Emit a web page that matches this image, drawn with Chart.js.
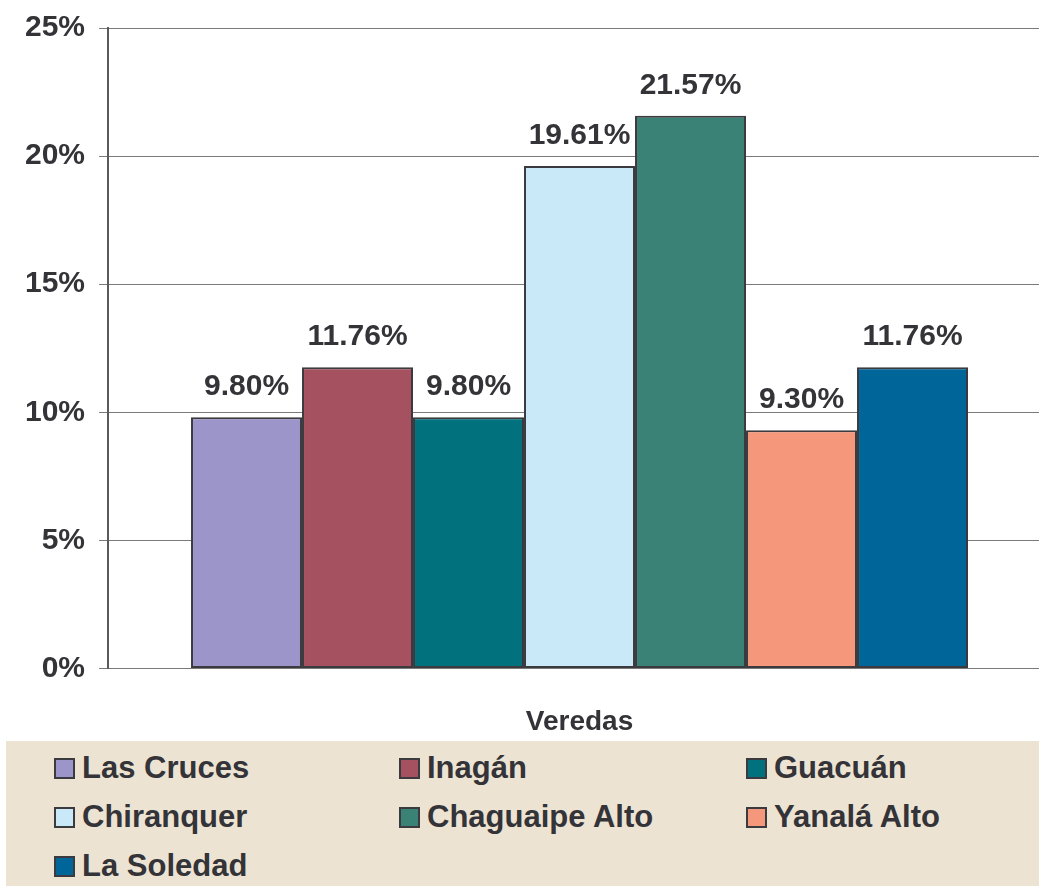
<!DOCTYPE html>
<html>
<head>
<meta charset="utf-8">
<script src="https://cdn.jsdelivr.net/npm/chart.js@4"></script>
<style>
  html, body { margin: 0; padding: 0; background: #fff; overflow: hidden; }
  #wrap { position: relative; width: 1039px; height: 886px; overflow: hidden; }
  #chart { position: absolute; left: 0; top: -4px; }
  #legend {
    position: absolute; left: 6px; top: 741px; width: 1033px; height: 145px;
    background: #ede3d3;
  }
  .item {
    position: absolute; display: flex; align-items: center; height: 34px;
    font: bold 31px "Liberation Sans", Arial, sans-serif; color: #333338;
    white-space: nowrap;
  }
  .box {
    width: 17px; height: 17px; border: 2px solid #3a3a3f; margin-right: 7px;
  }
</style>
</head>
<body>
<div id="wrap">
  <canvas id="chart"></canvas>
  <div id="legend"></div>
</div>
<script>
// data
const categories = ['Veredas'];
const seriesNames = ['Las Cruces', 'Inagán', 'Guacuán', 'Chiranquer', 'Chaguaipe Alto', 'Yanalá Alto', 'La Soledad'];
const seriesValues = [9.80, 11.76, 9.80, 19.61, 21.57, 9.30, 11.76];
const seriesColors = ['#9b95c9', '#a5515f', '#00717d', '#c9e9f8', '#3a8275', '#f5977a', '#006699'];
const yTicks = [0, 5, 10, 15, 20, 25];

const FONT = '"Liberation Sans", Arial, sans-serif';
const TEXT = '#333338';

// value labels above each bar
const valueLabels = {
    id: 'valueLabels',
    afterDatasetsDraw(chart) {
        const ctx = chart.ctx;
        ctx.save();
        ctx.font = 'bold 30px ' + FONT;
        ctx.fillStyle = TEXT;
        ctx.textAlign = 'center';
        ctx.textBaseline = 'alphabetic';
        chart.data.datasets.forEach((ds, i) => {
            const meta = chart.getDatasetMeta(i);
            meta.data.forEach((bar, j) => {
                ctx.fillText(ds.data[j].toFixed(2) + '%', bar.x, bar.y - 22);
            });
        });
        ctx.restore();
    }
};

const canvas = document.getElementById('chart');
canvas.width = 1052;
canvas.height = 784;
canvas.style.width = '1052px';
canvas.style.height = '784px';

const datasets = seriesNames.map((name, i) => ({
    label: name,
    data: [seriesValues[i]],
    backgroundColor: seriesColors[i],
    borderColor: '#3a3a3f',
    borderWidth: 2,
    borderSkipped: false
}));

new Chart(canvas.getContext('2d'), {
    type: 'bar',
    data: { labels: categories, datasets: datasets },
    options: {
        responsive: false,
        animation: false,
        devicePixelRatio: 1,
        layout: { padding: { left: 11, right: 1, top: 6, bottom: 4 } },
        datasets: { bar: { categoryPercentage: 0.824, barPercentage: 1.0 } },
        plugins: {
            legend: { display: false },
            tooltip: { enabled: false }
        },
        scales: {
            x: {
                grid: { display: false, drawTicks: false },
                border: { display: false },
                ticks: {
                    font: { family: FONT, size: 28, weight: 'bold' },
                    color: TEXT,
                    padding: 37
                }
            },
            y: {
                min: 0,
                max: 25,
                afterBuildTicks: axis => { axis.ticks = yTicks.map(v => ({ value: v })); },
                grid: { color: '#7a7a7a', lineWidth: 1, tickLength: 9 },
                border: { display: true, color: '#5a5a5a', width: 2 },
                ticks: {
                    font: { family: FONT, size: 30, weight: 'bold' },
                    color: TEXT,
                    padding: 14,
                    callback: v => v + '%'
                }
            }
        }
    },
    plugins: [valueLabels]
});

// legend in three columns
const legend = document.getElementById('legend');
const colX = [48, 393, 740];
const rowY = [10, 59, 108];
seriesNames.forEach((name, i) => {
    const el = document.createElement('div');
    el.className = 'item';
    el.style.left = colX[i % 3] + 'px';
    el.style.top = rowY[Math.floor(i / 3)] + 'px';
    const box = document.createElement('span');
    box.className = 'box';
    box.style.background = seriesColors[i];
    el.appendChild(box);
    el.appendChild(document.createTextNode(name));
    legend.appendChild(el);
});
</script>
</body>
</html>
